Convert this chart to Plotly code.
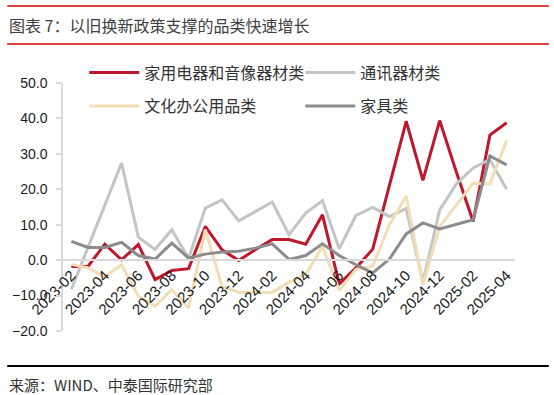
import plotly.graph_objects as go

months = ["2023-02", "2023-03", "2023-04", "2023-05", "2023-06", "2023-07", "2023-08",
          "2023-09", "2023-10", "2023-11", "2023-12", "2024-01", "2024-02", "2024-03",
          "2024-04", "2024-05", "2024-06", "2024-07", "2024-08", "2024-09", "2024-10",
          "2024-11", "2024-12", "2025-01", "2025-02", "2025-03", "2025-04"]
tick_labels = months[::2]

appliances = [-1.8, -1.7, 4.5, 0.1, 4.4, -5.5, -2.9, -2.4, 9.5, 2.9, -0.1, 3.0, 5.8, 5.8,
              4.5, 12.8, -6.7, -2.2, 3.1, 21.2, 39.2, 22.5, 39.4, 24.8, 10.9, 35.3, 38.8]
telecom = [-8.2, 3.6, 15.5, 27.4, 6.5, 3.0, 8.6, 0.5, 14.7, 17.0, 11.1, 13.8, 16.4, 7.2,
           13.3, 16.8, 3.2, 12.6, 14.9, 12.3, 14.6, -6.2, 14.2, 21.5, 26.0, 28.4, 20.0]
office = [-1.2, -2.2, -4.7, -1.3, -10.2, -13.0, -8.3, -13.5, 8.6, -7.4, -9.1, -9.1, -9.1, -6.2,
          -4.1, 3.9, -8.5, -2.6, -1.7, 10.0, 18.1, -6.9, 9.5, 15.6, 21.7, 21.5, 33.8]
furniture = [5.3, 3.6, 3.6, 5.0, 1.3, 0.3, 4.8, 0.6, 1.7, 2.3, 2.5, 3.4, 4.6, 0.2,
             1.3, 4.6, 1.3, -1.3, -3.6, 0.3, 7.4, 10.5, 8.8, 10.0, 11.4, 29.4, 26.9]

names = ["家用电器和音像器材类", "通讯器材类", "文化办公用品类", "家具类"]
colors = ["#C0172D", "#C4C4C4", "#F2DDB4", "#8C8C8C"]
series = [appliances, telecom, office, furniture]
legends = ["legend", "legend", "legend2", "legend2"]

CJK = "Noto Sans CJK SC"
NUM = "Liberation Sans"

fig = go.Figure()
for n, c, s, lg in zip(names, colors, series, legends):
    fig.add_trace(go.Scatter(x=months, y=s, name=n, mode="lines",
                             line=dict(color=c, width=3), legend=lg))

legend_common = dict(orientation="h", xanchor="left", yanchor="middle",
                     bgcolor="rgba(0,0,0,0)", itemwidth=50, entrywidth=151,
                     font=dict(family=CJK, size=16, color="#333333"),
                     itemclick=False, itemdoubleclick=False)

fig.update_layout(
    width=554, height=395,
    margin=dict(l=61, r=39, t=83, b=64),
    plot_bgcolor="white", paper_bgcolor="white",
    showlegend=True,
    legend=dict(x=0.047, y=1.042, **legend_common),
    legend2=dict(x=0.047, y=0.907, **legend_common),
    xaxis=dict(type="category", range=[-0.5, len(months) - 0.5],
               tickmode="array", tickvals=tick_labels, ticktext=tick_labels,
               tickangle=-45, showgrid=False, zeroline=False,
               showline=True, linecolor="#D9D9D9", linewidth=1.5,
               anchor="free", position=20 / 70, ticks="",
               tickfont=dict(family=NUM, size=15, color="#1a1a1a")),
    yaxis=dict(range=[-20, 50], tickmode="array",
               tickvals=[-20, -10, 0, 10, 20, 30, 40, 50],
               tickformat=".1f", showgrid=False, zeroline=False,
               showline=True, linecolor="#D9D9D9", linewidth=1.5,
               ticks="outside", ticklen=5, tickcolor="#D9D9D9", tickwidth=1.5,
               ticklabelstandoff=6,
               tickfont=dict(family=NUM, size=14, color="#1a1a1a")),
)

# header / footer decorations
def px2x(px):
    return (px - 61) / 454.0

def py2y(py):
    return (331.0 - py) / 248.0

for yy, col, w in [(6, "#D40000", 1.5), (44, "#D40000", 1.5), (366, "#000000", 1.8)]:
    fig.add_shape(type="line", xref="paper", yref="paper",
                  x0=px2x(5), x1=px2x(549), y0=py2y(yy), y1=py2y(yy),
                  line=dict(color=col, width=w))

fig.add_annotation(text="图表 7：以旧换新政策支撑的品类快速增长", xref="paper", yref="paper",
                   x=px2x(5), y=py2y(25), xanchor="left", yanchor="middle", showarrow=False,
                   font=dict(family=CJK, size=16, color="#404040"))
fig.add_annotation(text="来源：WIND、中泰国际研究部", xref="paper", yref="paper",
                   x=px2x(5), y=py2y(384), xanchor="left", yanchor="middle", showarrow=False,
                   font=dict(family=CJK, size=15, color="#333333"))

fig.write_html("out.html", config={"displayModeBar": False},
               post_script="document.body.style.margin='0';document.body.style.padding='0';")
